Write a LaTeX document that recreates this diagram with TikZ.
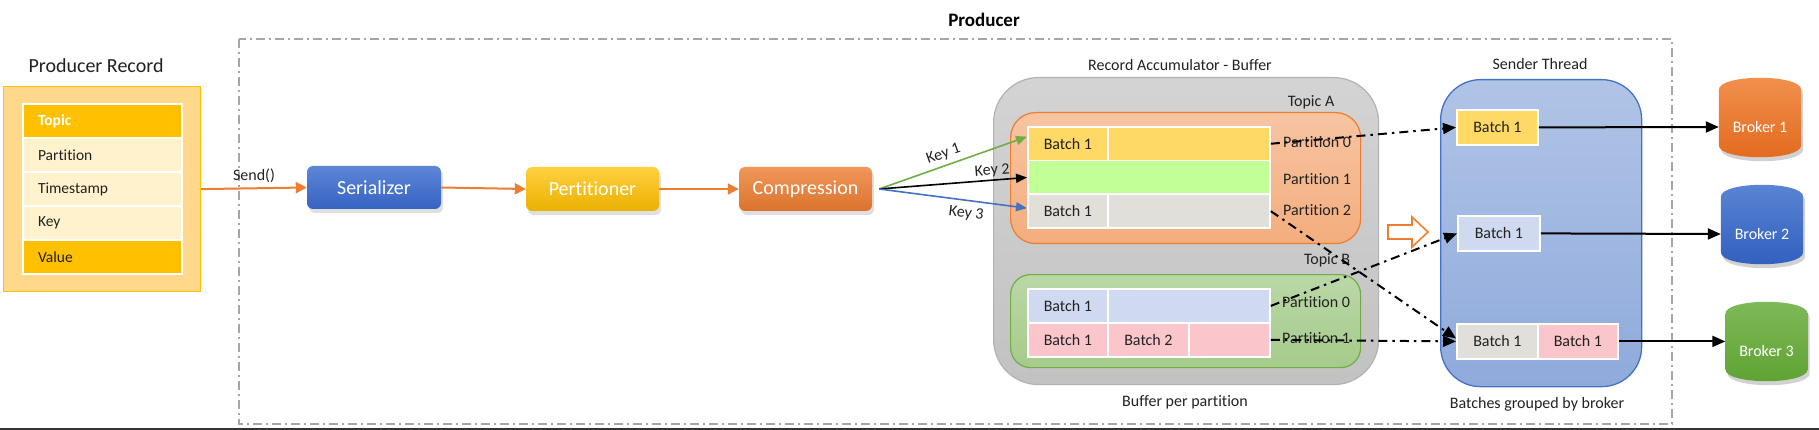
\documentclass[tikz,border=0pt]{standalone}
\usepackage{fontspec}
\setmainfont{Carlito}[Ligatures={NoCommon}]
\usetikzlibrary{arrows.meta,calc,shadows}
\definecolor{cOrange}{HTML}{ED7D31}
\definecolor{cGold}{HTML}{FFC000}
\definecolor{cCream}{HTML}{FFF2CC}
\definecolor{cPrBox}{HTML}{FFD88C}
\definecolor{cYel}{HTML}{FFD966}
\definecolor{cLime}{HTML}{C3FF97}
\definecolor{cGrayCell}{HTML}{E0DFD9}
\definecolor{cLBlue}{HTML}{CFDAF0}
\definecolor{cPink}{HTML}{FAC6CC}
\definecolor{cGreen}{HTML}{70AD47}
\definecolor{cBlue}{HTML}{4472C4}
\definecolor{cSerTop}{HTML}{5D86D6}
\definecolor{cSerBot}{HTML}{3663C2}
\definecolor{cText}{HTML}{222222}
\definecolor{cBorder}{HTML}{A6A6A6}
\tikzset{
  txt/.style={font=\fontsize{16}{19}\selectfont, text=cText, inner sep=0pt},
  rowcell/.style={draw=white, line width=2pt, anchor=north west, minimum height=34pt,
     text width=129pt, inner xsep=15pt, inner ysep=0pt, align=left,
     font=\fontsize{15.5}{18}\selectfont, text=cText},
  cell/.style={draw=white, line width=1.8pt, anchor=north west, inner sep=0pt,
     font=\fontsize{16}{19}\selectfont, text=cText},
  proc/.style={rounded corners=6pt, inner sep=0pt, text=white,
     font=\fontsize{20}{24}\selectfont,
     drop shadow={shadow xshift=2pt, shadow yshift=-4pt, opacity=0.25}},
  oarrow/.style={draw=cOrange, line width=2pt, -{Triangle[length=11pt,width=11pt]}},
  keyarrow/.style={line width=1.6pt, -{Triangle[length=11pt,width=9pt]}},
  dd/.style={draw=black, line width=2pt, dash pattern=on 9pt off 5pt on 2.5pt off 5pt,
     -{Triangle[length=13pt,width=11pt]}},
  solidarrow/.style={draw=black, line width=2pt, -{Triangle[length=13pt,width=11pt]}},
  broker/.style={minimum width=82pt, minimum height=60pt, inner sep=0pt, text=white,
     font=\fontsize{16}{19}\selectfont},
}
\begin{document}
\begin{tikzpicture}[x=1pt,y=-1pt]
\useasboundingbox (0,0) rectangle (1819,430);
\fill[white] (0,0) rectangle (1819,430);
\draw[color=black!80, line width=1.5pt] (0,429.2) -- (1819,429.2);

% Producer dashed frame
\draw[cBorder, line width=1.5pt, dash pattern=on 9pt off 4pt on 2pt off 4pt] (239,39) rectangle (1672,424);
\node[txt, font=\bfseries\fontsize{19}{22}\selectfont, text=black] (ptitle) at (984,20) {Producer};

% Producer record
\node[txt, font=\fontsize{20}{24}\selectfont] (prtitle) at (96,66) {Producer Record};
\node[draw=cGold, line width=1.2pt, fill=cPrBox, anchor=north west, minimum width=197pt, minimum height=205pt, inner sep=0pt] (prec) at (3,86) {};
\node[rowcell, fill=cGold, text=white, font=\bfseries\fontsize{15.5}{18}\selectfont] (rTopic) at (22,103) {Topic};
\node[rowcell, fill=cCream] (rPart) at (22,137) {Partition};
\node[rowcell, fill=cCream] (rTime) at (22,171) {Timestamp};
\node[rowcell, fill=cCream] (rKey) at (22,205) {Key};
\node[rowcell, fill=cGold] (rVal) at (22,239) {Value};

% processing boxes
\node[proc, top color=cSerTop, bottom color=cSerBot, minimum width=134pt, minimum height=43pt] (ser) at (374,187.5) {Serializer};
\node[proc, top color=cGold!75!white, bottom color=cGold!92!black, minimum width=133pt, minimum height=44pt] (part) at (592.5,189) {Pertitioner};
\node[proc, top color=cOrange!80!white, bottom color=cOrange!92!black, minimum width=133pt, minimum height=44pt] (comp) at (805.5,189) {Compression};

\draw[oarrow] (prec.east) -- (ser.west) node[midway, above=5pt, txt] (sendlbl) {Send()};
\draw[oarrow] (ser.east) -- (part.west);
\draw[oarrow] (part.east) -- (comp.west);

% Record accumulator
\node[txt] (acctitle) at (1180,65) {Record Accumulator - Buffer};
\node[draw=black!30, line width=1.2pt, top color=black!17, bottom color=black!24, rounded corners=45pt, anchor=north west, minimum width=385pt, minimum height=307pt, inner sep=0pt] (acc) at (993,77) {};
\node[txt] (topA) at (1311,102) {Topic A};
\node[draw=cOrange, line width=1.2pt, top color=cOrange!45!white, bottom color=cOrange!63!white, rounded corners=25pt, anchor=north west, minimum width=350pt, minimum height=131pt, inner sep=0pt] (tA) at (1010,112) {};
\node[cell, fill=cYel, minimum width=80pt, minimum height=33.7pt] (a0l) at (1027,126) {Batch 1};
\node[cell, fill=cYel, minimum width=162pt, minimum height=33.7pt] (a0r) at (1107,126) {};
\node[cell, fill=cLime, minimum width=242pt, minimum height=33.7pt] (a1) at (1027,159.7) {};
\node[cell, fill=cGrayCell, minimum width=80pt, minimum height=33.7pt] (a2l) at (1027,193.4) {Batch 1};
\node[cell, fill=cGrayCell, minimum width=162pt, minimum height=33.7pt] (a2r) at (1107,193.4) {};
\node[txt, anchor=west] (pA0) at (1283,142) {Partition 0};
\node[txt, anchor=west] (pA1) at (1283,179) {Partition 1};
\node[txt, anchor=west] (pA2) at (1283,210) {Partition 2};

\node[txt] (topB) at (1327,260) {Topic B};
\node[draw=cGreen, line width=1.2pt, top color=cGreen!48!white, bottom color=cGreen!63!white, rounded corners=20pt, anchor=north west, minimum width=350pt, minimum height=93pt, inner sep=0pt] (tB) at (1010,274) {};
\node[cell, fill=cLBlue, minimum width=80pt, minimum height=34pt] (b0l) at (1027,288) {Batch 1};
\node[cell, fill=cLBlue, minimum width=162pt, minimum height=34pt] (b0r) at (1107,288) {};
\node[cell, fill=cPink, minimum width=80pt, minimum height=34pt] (b1a) at (1027,322) {Batch 1};
\node[cell, fill=cPink, minimum width=81pt, minimum height=34pt] (b1b) at (1107,322) {Batch 2};
\node[cell, fill=cPink, minimum width=81pt, minimum height=34pt] (b1c) at (1188,322) {};
\node[txt, anchor=west] (pB0) at (1282,302) {Partition 0};
\node[txt, anchor=west] (pB1) at (1282,338) {Partition 1};
\node[txt] (bpp) at (1185,402) {Buffer per partition};

% Sender thread
\node[txt] (sendtitle) at (1540,64) {Sender Thread};
\node[draw=cBlue, line width=1.3pt, top color=cBlue!42!white, bottom color=cBlue!60!white, rounded corners=40pt, anchor=north west, minimum width=201pt, minimum height=307pt, inner sep=0pt] (snd) at (1440,79) {};
\node[cell, fill=cYel, minimum width=81pt, minimum height=35pt] (sb1) at (1456,109) {Batch 1};
\node[cell, fill=cLBlue, minimum width=82pt, minimum height=35pt] (sb2) at (1457,215) {Batch 1};
\node[cell, fill=cGrayCell, minimum width=81pt, minimum height=35pt] (sb3a) at (1456,323) {Batch 1};
\node[cell, fill=cPink, minimum width=80pt, minimum height=35pt] (sb3b) at (1537,323) {Batch 1};
\node[txt] (bgb) at (1537,404) {Batches grouped by broker};

% hollow arrow
\draw[cOrange, line width=1.6pt, fill=white, line join=miter] (1388,225) -- (1412,225) -- (1412,217) -- (1428,232) -- (1412,247) -- (1412,239) -- (1388,239) -- cycle;

% brokers
\node[broker] (br1) at (1760,127) {Broker 1};
\node[broker] (br2) at (1762,234) {Broker 2};
\node[broker] (br3) at (1766.5,351) {Broker 3};
\foreach \b/\ct/\cb in {br1/F29150/E2691C, br2/5C85D3/2F5FBE, br3/80BA5A/5EA232}{
  \definecolor{ctop}{HTML}{\ct}\definecolor{cbot}{HTML}{\cb}
  \fill[black, opacity=0.18] ($(\b.north west)+(2,-3)$) .. controls ($(\b.north west)+(2,-19)$) and ($(\b.north east)+(2,-19)$) .. ($(\b.north east)+(2,-3)$)
     -- ($(\b.south east)+(2,-8)$) .. controls ($(\b.south east)+(2,8)$) and ($(\b.south west)+(2,8)$) .. ($(\b.south west)+(2,-8)$) -- cycle;
  \shade[top color=ctop, bottom color=cbot] ($(\b.north west)+(0,-7)$) .. controls ($(\b.north west)+(0,-23)$) and ($(\b.north east)+(0,-23)$) .. ($(\b.north east)+(0,-7)$)
     -- ($(\b.south east)+(0,-12)$) .. controls ($(\b.south east)+(0,4)$) and ($(\b.south west)+(0,4)$) .. ($(\b.south west)+(0,-12)$) -- cycle;
}
\node[broker] at (br1) {Broker 1};
\node[broker] at (br2) {Broker 2};
\node[broker] at (br3) {Broker 3};

% key arrows
\coordinate (ks) at ($(comp.east)+(7,0)$);
\draw[keyarrow, cGreen] (ks) -- ($(a0l.west)+(0,-7)$) node[pos=0.46, sloped, above=4pt, txt] (k1) {Key 1};
\draw[keyarrow, black] (ks) -- (a1.west) node[pos=0.77, sloped, above=2pt, txt] (k2) {Key 2};
\draw[keyarrow, cBlue] (ks) -- ($(a2l.west)+(0,-3)$) node[pos=0.6, sloped, below=6pt, txt] (k3) {Key 3};

% dash-dot connectors
\draw[dd] (a0r.east) -- (sb1.west);
\draw[dd] (a2r.east) -- ($(sb3a.west)+(0,-3)$);
\draw[dd] (b0r.east) -- (sb2.west);
\draw[dd] (b1c.east) -- (sb3a.west);

% sender to brokers
\draw[solidarrow] (sb1.east) -- (br1.west);
\draw[solidarrow] (sb2.east) -- (br2.west);
\draw[solidarrow] (sb3b.east) -- (sb3b.east -| br3.west);
\end{tikzpicture}
\end{document}
